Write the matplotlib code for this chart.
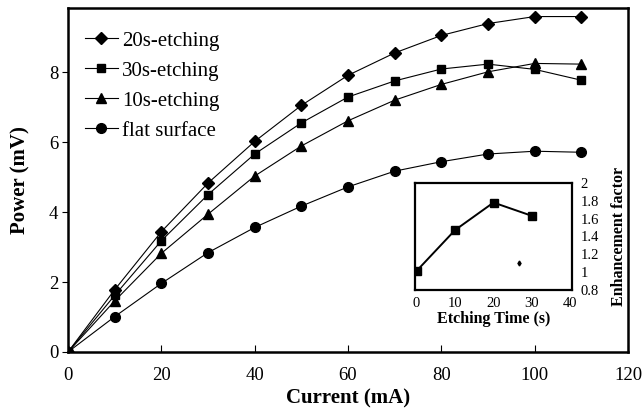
import numpy as np
import matplotlib
matplotlib.use("Agg")
import matplotlib.pyplot as plt

plt.rcParams['font.family'] = ['Liberation Serif', 'DejaVu Serif']

current = [0, 10, 20, 30, 40, 50, 60, 70, 80, 90, 100, 110]
etch20 = [0, 1.78, 3.44, 4.83, 6.02, 7.05, 7.91, 8.55, 9.05, 9.39, 9.59, 9.59]
etch30 = [0, 1.62, 3.18, 4.50, 5.66, 6.55, 7.29, 7.75, 8.09, 8.23, 8.08, 7.77]
etch10 = [0, 1.46, 2.82, 3.94, 5.03, 5.89, 6.61, 7.20, 7.65, 8.01, 8.25, 8.23]
flat = [0, 1.01, 1.96, 2.84, 3.56, 4.17, 4.72, 5.17, 5.44, 5.66, 5.74, 5.71]

etch_time = [0, 10, 20, 30]
enhancement = [1.01, 1.47, 1.78, 1.63]

fig = plt.figure(figsize=(6.43, 4.08), dpi=100)
ax = fig.add_axes([0.1058, 0.1373, 0.8709, 0.8427])

series = [
    ('20s-etching', etch20, 'D', 6),
    ('30s-etching', etch30, 's', 6),
    ('10s-etching', etch10, '^', 7),
    ('flat surface', flat, 'o', 7),
]
for label, vals, m, ms in series:
    ax.plot(current, vals, color='black', lw=0.8, marker=m, ms=ms,
            label=label)

ax.set_xlim(0, 120)
ax.set_ylim(0, 9.83)
ax.set_xticks(range(0, 121, 20))
ax.set_yticks([0, 2, 4, 6, 8])
ax.tick_params(axis='x', direction='in', length=5, labelsize=13.5, pad=11)
ax.tick_params(axis='y', direction='out', length=4, labelsize=13.5, pad=3)
for s in ax.spines.values():
    s.set_linewidth(1.8)
ax.set_xlabel('Current (mA)', fontsize=15, fontweight='bold', labelpad=3)
ax.set_ylabel('Power (mV)', fontsize=15, fontweight='bold', labelpad=13)

leg = ax.legend(loc='upper left', frameon=False, fontsize=15,
                handlelength=1.55, handletextpad=0.2, labelspacing=0.5,
                borderaxespad=0, borderpad=0.4,
                bbox_to_anchor=(0.016, 0.958))

ins = fig.add_axes([0.6454, 0.29, 0.2442, 0.2615])
ins.plot(etch_time, enhancement, color='black', lw=1.4, marker='s', ms=6)
# stray small mark present in the original figure
ins.plot([26.5], [1.1], marker='d', ms=2.5, color='black', lw=0)
ins.set_xlim(-0.4, 40.4)
ins.set_ylim(0.8, 2.0)
ins.set_xticks([0, 10, 20, 30, 40])
ins.set_yticks([0.8, 1, 1.2, 1.4, 1.6, 1.8, 2])
ins.set_yticklabels(['0.8', '1', '1.2', '1.4', '1.6', '1.8', '2'])
ins.yaxis.tick_right()
ins.yaxis.set_label_position('right')
ins.tick_params(axis='both', length=0, labelsize=10.5)
ins.tick_params(axis='x', pad=5)
ins.tick_params(axis='y', pad=6)
for s in ins.spines.values():
    s.set_linewidth(1.6)
ins.set_xlabel('Etching Time (s)', fontsize=11.5, fontweight='bold',
               labelpad=1)
ins.set_ylabel('Enhancement factor', fontsize=11.5, fontweight='bold',
               labelpad=9)

fig.savefig('out.png', dpi=100)
